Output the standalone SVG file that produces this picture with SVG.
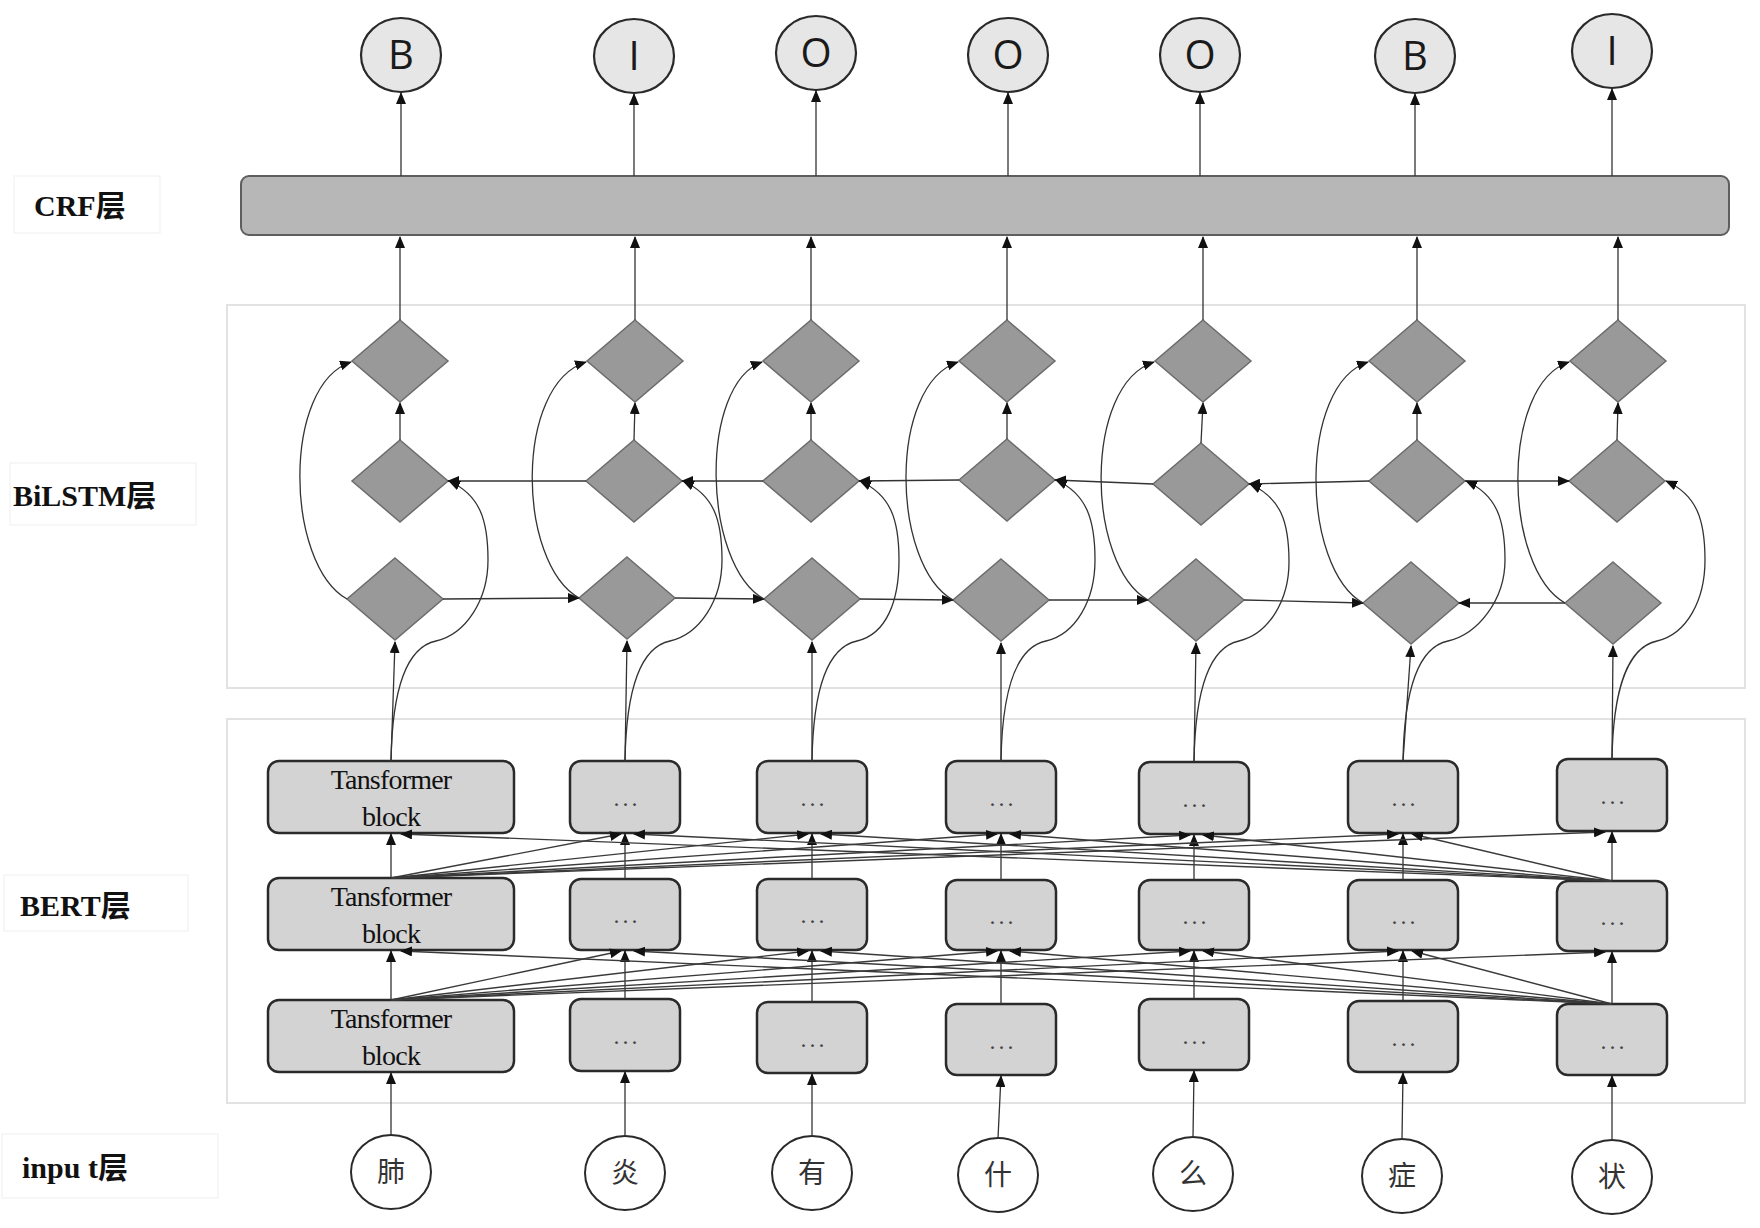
<svg xmlns="http://www.w3.org/2000/svg" width="1760" height="1228" viewBox="0 0 1760 1228">
<defs>
<marker id="ah" viewBox="0 0 12 10" refX="11" refY="5" markerWidth="12" markerHeight="10" markerUnits="userSpaceOnUse" orient="auto"><path d="M0,0 L12,5 L0,10 z" fill="#111"/></marker>
</defs>
<style>
.frame{fill:none;stroke:#e2e2e2;stroke-width:2}
.lblbox{fill:none;stroke:#f5f5f5;stroke-width:1.5}
.lbl{font-family:"Liberation Serif","Noto Sans CJK SC",serif;font-weight:bold;font-size:30px;fill:#111}
.out ellipse{fill:#e6e6e6;stroke:#2a2a2a;stroke-width:2.2}
.out text{font-family:"Open Sans","DejaVu Sans",sans-serif;font-size:40px;fill:#1a1a1a;text-anchor:middle}
.inp ellipse{fill:#fff;stroke:#2a2a2a;stroke-width:2}
.inp text{font-family:"Noto Sans CJK SC",sans-serif;font-size:28px;fill:#333;text-anchor:middle}
.crf{fill:#b7b7b7;stroke:#5e5e5e;stroke-width:2}
.dia{fill:#999;stroke:#6c6c6c;stroke-width:1.5}
.box{fill:#d3d3d3;stroke:#2a2a2a;stroke-width:2.5}
.tb{font-family:"Liberation Serif",serif;font-size:28px;fill:#111;text-anchor:middle;letter-spacing:-0.8px}
.dots{font-family:"Liberation Serif",serif;font-size:24px;fill:#444;text-anchor:middle;letter-spacing:3px}
.conn path{fill:none;stroke:#333;stroke-width:1.3;marker-end:url(#ah)}
.cross path{stroke:#3a3a3a;stroke-width:1.4}
</style>
<rect width="1760" height="1228" fill="#fff"/>

<!-- layer frames -->
<rect class="frame" x="227" y="305" width="1518" height="383"/>
<rect class="frame" x="227" y="719" width="1518" height="384"/>

<!-- layer labels -->
<g id="label-crf"><rect class="lblbox" x="14" y="176" width="146" height="57"/><text class="lbl" x="34" y="216">CRF层</text></g>
<g id="label-bilstm"><rect class="lblbox" x="10" y="463" width="186" height="62"/><text class="lbl" x="13" y="506">BiLSTM层</text></g>
<g id="label-bert"><rect class="lblbox" x="4" y="875" width="184" height="56"/><text class="lbl" x="20" y="916">BERT层</text></g>
<g id="label-input"><rect class="lblbox" x="2" y="1134" width="216" height="64"/><text class="lbl" x="22" y="1178">inpu t层</text></g>

<!-- output tags -->
<g class="out">
<g id="out1"><ellipse cx="401" cy="55" rx="40" ry="37"/><text x="401" y="69">B</text></g>
<g id="out2"><ellipse cx="634" cy="56" rx="40" ry="37"/><text x="634" y="70">I</text></g>
<g id="out3"><ellipse cx="816" cy="53" rx="40" ry="37"/><text x="816" y="67">O</text></g>
<g id="out4"><ellipse cx="1008" cy="55" rx="40" ry="37"/><text x="1008" y="69">O</text></g>
<g id="out5"><ellipse cx="1200" cy="55" rx="40" ry="37"/><text x="1200" y="69">O</text></g>
<g id="out6"><ellipse cx="1415" cy="56" rx="40" ry="37"/><text x="1415" y="70">B</text></g>
<g id="out7"><ellipse cx="1612" cy="51" rx="40" ry="37"/><text x="1612" y="65">I</text></g>
</g>

<!-- CRF bar -->
<g id="crf"><rect class="crf" x="241" y="176" width="1488" height="59" rx="8"/></g>

<!-- BiLSTM diamonds -->
<g id="bilstm-top">
<g id="t1"><path class="dia" d="M400,320 L448,361 L400,402 L352,361 Z"/></g>
<g id="t2"><path class="dia" d="M635,320 L683,361 L635,402 L587,361 Z"/></g>
<g id="t3"><path class="dia" d="M811,320 L859,361 L811,402 L763,361 Z"/></g>
<g id="t4"><path class="dia" d="M1007,320 L1055,361 L1007,402 L959,361 Z"/></g>
<g id="t5"><path class="dia" d="M1203,320 L1251,361 L1203,402 L1155,361 Z"/></g>
<g id="t6"><path class="dia" d="M1417,320 L1465,361 L1417,402 L1369,361 Z"/></g>
<g id="t7"><path class="dia" d="M1618,320 L1666,361 L1618,402 L1570,361 Z"/></g>
</g>
<g id="bilstm-mid">
<g id="m1"><path class="dia" d="M400,440 L448,481 L400,522 L352,481 Z"/></g>
<g id="m2"><path class="dia" d="M634,440 L682,481 L634,522 L586,481 Z"/></g>
<g id="m3"><path class="dia" d="M811,440 L859,481 L811,522 L763,481 Z"/></g>
<g id="m4"><path class="dia" d="M1007,439 L1055,480 L1007,521 L959,480 Z"/></g>
<g id="m5"><path class="dia" d="M1201,443 L1249,484 L1201,525 L1153,484 Z"/></g>
<g id="m6"><path class="dia" d="M1417,440 L1465,481 L1417,522 L1369,481 Z"/></g>
<g id="m7"><path class="dia" d="M1617,440 L1665,481 L1617,522 L1569,481 Z"/></g>
</g>
<g id="bilstm-bot">
<g id="b1"><path class="dia" d="M395,558 L443,599 L395,640 L347,599 Z"/></g>
<g id="b2"><path class="dia" d="M627,557 L675,598 L627,639 L579,598 Z"/></g>
<g id="b3"><path class="dia" d="M812,558 L860,599 L812,640 L764,599 Z"/></g>
<g id="b4"><path class="dia" d="M1001,559 L1049,600 L1001,641 L953,600 Z"/></g>
<g id="b5"><path class="dia" d="M1196,559 L1244,600 L1196,641 L1148,600 Z"/></g>
<g id="b6"><path class="dia" d="M1411,562 L1459,603 L1411,644 L1363,603 Z"/></g>
<g id="b7"><path class="dia" d="M1613,562 L1661,603 L1613,644 L1565,603 Z"/></g>
</g>

<!-- BERT blocks -->
<g id="bert">
<g id="r3c1"><rect class="box" x="268" y="761" width="246" height="72" rx="11"/><text class="tb" x="391" y="789">Tansformer</text><text class="tb" x="391" y="826">block</text></g>
<g id="r2c1"><rect class="box" x="268" y="878" width="246" height="72" rx="11"/><text class="tb" x="391" y="906">Tansformer</text><text class="tb" x="391" y="943">block</text></g>
<g id="r1c1"><rect class="box" x="268" y="1000" width="246" height="72" rx="11"/><text class="tb" x="391" y="1028">Tansformer</text><text class="tb" x="391" y="1065">block</text></g>

<g id="r3c2"><rect class="box" x="570" y="761" width="110" height="72" rx="11"/><text class="dots" x="627" y="806">...</text></g>
<g id="r3c3"><rect class="box" x="757" y="761" width="110" height="72" rx="11"/><text class="dots" x="814" y="806">...</text></g>
<g id="r3c4"><rect class="box" x="946" y="761" width="110" height="72" rx="11"/><text class="dots" x="1003" y="806">...</text></g>
<g id="r3c5"><rect class="box" x="1139" y="762" width="110" height="72" rx="11"/><text class="dots" x="1196" y="807">...</text></g>
<g id="r3c6"><rect class="box" x="1348" y="761" width="110" height="72" rx="11"/><text class="dots" x="1405" y="806">...</text></g>
<g id="r3c7"><rect class="box" x="1557" y="759" width="110" height="72" rx="11"/><text class="dots" x="1614" y="804">...</text></g>

<g id="r2c2"><rect class="box" x="570" y="879" width="110" height="71" rx="11"/><text class="dots" x="627" y="923">...</text></g>
<g id="r2c3"><rect class="box" x="757" y="879" width="110" height="71" rx="11"/><text class="dots" x="814" y="923">...</text></g>
<g id="r2c4"><rect class="box" x="946" y="880" width="110" height="70" rx="11"/><text class="dots" x="1003" y="924">...</text></g>
<g id="r2c5"><rect class="box" x="1139" y="880" width="110" height="70" rx="11"/><text class="dots" x="1196" y="924">...</text></g>
<g id="r2c6"><rect class="box" x="1348" y="880" width="110" height="70" rx="11"/><text class="dots" x="1405" y="924">...</text></g>
<g id="r2c7"><rect class="box" x="1557" y="881" width="110" height="70" rx="11"/><text class="dots" x="1614" y="925">...</text></g>

<g id="r1c2"><rect class="box" x="570" y="999" width="110" height="72" rx="11"/><text class="dots" x="627" y="1044">...</text></g>
<g id="r1c3"><rect class="box" x="757" y="1002" width="110" height="71" rx="11"/><text class="dots" x="814" y="1047">...</text></g>
<g id="r1c4"><rect class="box" x="946" y="1004" width="110" height="71" rx="11"/><text class="dots" x="1003" y="1049">...</text></g>
<g id="r1c5"><rect class="box" x="1139" y="999" width="110" height="71" rx="11"/><text class="dots" x="1196" y="1044">...</text></g>
<g id="r1c6"><rect class="box" x="1348" y="1001" width="110" height="71" rx="11"/><text class="dots" x="1405" y="1046">...</text></g>
<g id="r1c7"><rect class="box" x="1557" y="1004" width="110" height="71" rx="11"/><text class="dots" x="1614" y="1049">...</text></g>
</g>

<!-- input characters -->
<g class="inp">
<g id="in1"><ellipse cx="391" cy="1172" rx="40" ry="37"/><text x="391" y="1182">肺</text></g>
<g id="in2"><ellipse cx="625" cy="1173" rx="40" ry="37"/><text x="625" y="1183">炎</text></g>
<g id="in3"><ellipse cx="812" cy="1173" rx="40" ry="37"/><text x="812" y="1183">有</text></g>
<g id="in4"><ellipse cx="998" cy="1175" rx="40" ry="37"/><text x="998" y="1185">什</text></g>
<g id="in5"><ellipse cx="1193" cy="1174" rx="40" ry="37"/><text x="1193" y="1184">么</text></g>
<g id="in6"><ellipse cx="1402" cy="1176" rx="40" ry="37"/><text x="1402" y="1186">症</text></g>
<g id="in7"><ellipse cx="1612" cy="1177" rx="40" ry="37"/><text x="1612" y="1187">状</text></g>
</g>

<!-- connectors -->
<g id="connectors" class="conn">
<!-- top diamonds to CRF -->
<path d="M400,320 V237"/><path d="M635,320 V237"/><path d="M811,320 V237"/><path d="M1007,320 V237"/><path d="M1203,320 V237"/><path d="M1417,320 V237"/><path d="M1618,320 V237"/>
<!-- CRF to tags -->
<path d="M401,176 V93"/><path d="M634,176 V94"/><path d="M816,176 V91"/><path d="M1008,176 V93"/><path d="M1200,176 V93"/><path d="M1415,176 V94"/><path d="M1612,176 V89"/>
<!-- mid to top -->
<path d="M400,440 L400,403"/><path d="M634,440 L635,403"/><path d="M811,440 L811,403"/><path d="M1007,439 L1007,403"/><path d="M1201,443 L1203,403"/><path d="M1417,440 L1417,403"/><path d="M1617,440 L1618,403"/>
<!-- forward row -->
<path d="M443,599 L579,598"/><path d="M675,598 L764,599"/><path d="M860,599 L953,600"/><path d="M1049,600 L1148,600"/><path d="M1244,600 L1363,603"/><path d="M1565,603 L1459,603"/>
<!-- backward row -->
<path d="M586,481 L448,481"/><path d="M763,481 L682,481"/><path d="M959,480 L859,481"/><path d="M1153,484 L1055,480"/><path d="M1369,481 L1249,484"/><path d="M1465,481 L1569,481"/>
<!-- left curves bottom -> top -->
<path d="M347,599 C285,564 282,385 351,362"/>
<path d="M579,598 C517,563 514,385 586,362"/>
<path d="M764,599 C702,564 699,385 762,362"/>
<path d="M953,600 C891,565 888,385 958,362"/>
<path d="M1148,600 C1086,565 1083,385 1154,362"/>
<path d="M1363,603 C1301,568 1298,385 1368,362"/>
<path d="M1565,603 C1503,568 1500,385 1569,362"/>
<!-- BERT to bottom diamonds -->
<path d="M391,761 L395,642"/><path d="M625,761 L627,641"/><path d="M812,761 L812,642"/><path d="M1001,761 L1001,643"/><path d="M1194,762 L1196,643"/><path d="M1403,761 L1411,646"/><path d="M1612,759 L1613,646"/>
<!-- BERT to middle diamonds (curves) -->
<path d="M391,761 C392,700 403,648 436,641 C466,634 488,600 488,560 C488,520 480,495 449,481"/>
<path d="M625,761 C626,700 637,648 670,641 C700,634 722,600 722,560 C722,520 714,495 683,481"/>
<path d="M812,761 C813,700 824,648 857,641 C887,634 899,600 899,560 C899,520 891,495 860,481"/>
<path d="M1001,761 C1002,700 1013,648 1046,641 C1076,634 1095,600 1095,560 C1095,520 1087,494 1056,480"/>
<path d="M1194,762 C1195,700 1206,648 1239,641 C1269,634 1289,600 1289,562 C1289,522 1281,498 1250,484"/>
<path d="M1403,761 C1404,700 1415,648 1448,641 C1478,634 1505,600 1505,560 C1505,520 1497,495 1466,481"/>
<path d="M1612,759 C1613,700 1624,648 1657,641 C1687,634 1705,600 1705,560 C1705,520 1697,495 1666,481"/>
<!-- input to BERT -->
<path d="M391,1135 V1073"/><path d="M625,1136 V1072"/><path d="M812,1136 V1074"/><path d="M998,1138 L1001,1076"/><path d="M1193,1137 L1194,1071"/><path d="M1402,1139 L1403,1073"/><path d="M1612,1140 V1076"/>
<!-- BERT verticals -->
<path d="M391,1000 V951"/><path d="M625,999 V951"/><path d="M812,1002 V951"/><path d="M1001,1004 V951"/><path d="M1194,999 V951"/><path d="M1403,1001 V951"/><path d="M1612,1004 V952"/>
<path d="M391,878 V834"/><path d="M625,879 V834"/><path d="M812,879 V834"/><path d="M1001,880 V834"/><path d="M1194,880 V835"/><path d="M1403,880 V834"/><path d="M1612,881 V832"/>
<g class="cross">
<!-- row1 -> row2 from first -->
<path d="M391,1000 L621,951"/><path d="M391,1000 L808,951"/><path d="M391,1000 L997,951"/><path d="M391,1000 L1190,951"/><path d="M391,1000 L1398,951"/><path d="M391,1000 L1605,952"/>
<!-- row1 -> row2 from last -->
<path d="M1612,1004 L401,951"/><path d="M1612,1004 L634,951"/><path d="M1612,1004 L821,951"/><path d="M1612,1004 L1010,951"/><path d="M1612,1004 L1203,951"/><path d="M1612,1004 L1412,951"/>
<!-- row2 -> row3 from first -->
<path d="M391,878 L621,834"/><path d="M391,878 L808,834"/><path d="M391,878 L997,834"/><path d="M391,878 L1190,835"/><path d="M391,878 L1398,834"/><path d="M391,878 L1605,832"/>
<!-- row2 -> row3 from last -->
<path d="M1612,881 L401,834"/><path d="M1612,881 L634,834"/><path d="M1612,881 L821,834"/><path d="M1612,881 L1010,834"/><path d="M1612,881 L1203,835"/><path d="M1612,881 L1412,834"/>
</g>
</g>
</svg>
